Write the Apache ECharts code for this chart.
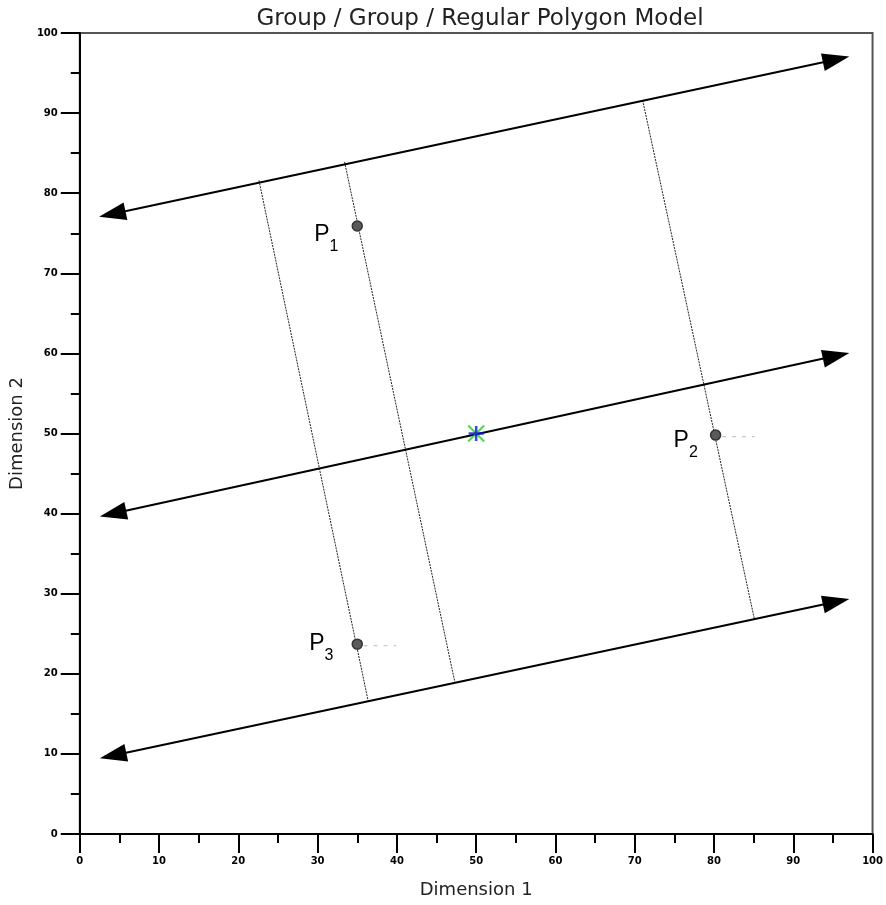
<!DOCTYPE html>
<html>
<head>
<meta charset="utf-8">
<script src="https://cdn.jsdelivr.net/npm/echarts@6/dist/echarts.min.js"></script>
<style>html,body{margin:0;padding:0;background:#fff;}#c{width:886px;height:905px;}</style>
</head>
<body>
<div id="c"></div>
<script>
// ---- data ----
const titleText = 'Group / Group / Regular Polygon Model';
const xName = 'Dimension 1';
const yName = 'Dimension 2';
const pointNames = ['1', '2', '3'];
const pointX = [35.0, 80.2, 35.0];
const pointY = [75.9, 49.8, 23.7];
const centerPoint = [50, 50];
// double-headed arrow lines (ends at arrowhead centres)
const arrowStarts = [[4.1, 77.4], [4.2, 40.0], [4.2, 9.8]];
const arrowEnds = [[95.4, 96.7], [95.4, 59.7], [95.4, 29.0]];
// thin perpendicular lines through the points
const perpStarts = [[22.6, 81.6], [33.4, 83.9], [71.0, 91.6]];
const perpEnds = [[36.4, 16.5], [47.3, 19.0], [85.1, 26.8]];
// short grey dashed stubs
const stubStarts = [[81.0, 49.6], [35.8, 23.5]];
const stubEnds = [[85.1, 49.6], [39.9, 23.5]];

// ---- label layout (not data) ----
const labelOffsets = [[-8, 9], [-7, 5.5], [-13, -1]];

const chart = echarts.init(document.getElementById('c'), null, {renderer: 'canvas'});

const axisCommon = {
  type: 'value', min: 0, max: 100, interval: 10,
  axisLine: {show: true, onZero: false, lineStyle: {color: '#000', width: 2}},
  axisTick: {show: true, length: 19, lineStyle: {color: '#000', width: 2}},
  minorTick: {show: true, splitNumber: 2, length: 9, lineStyle: {color: '#000', width: 2}},
  splitLine: {show: false},
  minorSplitLine: {show: false},
  axisLabel: {fontSize: 10, fontWeight: 'bold', fontFamily: 'DejaVu Sans', color: '#000'},
  nameLocation: 'middle',
  nameTextStyle: {fontSize: 18, fontFamily: 'DejaVu Sans', color: '#222'}
};

const series = [];
perpStarts.forEach((s, i) => {
  series.push({
    type: 'line', data: [s, perpEnds[i]], showSymbol: false, symbol: 'none',
    lineStyle: {color: '#222', width: 1, type: [2, 1]}, silent: true, z: 2
  });
});
stubStarts.forEach((s, i) => {
  series.push({
    type: 'line', data: [s, stubEnds[i]], showSymbol: false, symbol: 'none',
    lineStyle: {color: '#bbb', width: 1, type: [4, 6]}, silent: true, z: 2
  });
});
series.push({
  type: 'line', data: [], silent: true, z: 3,
  markLine: {
    silent: true, animation: false,
    symbol: ['triangle', 'triangle'], symbolSize: [18, 27],
    label: {show: false},
    lineStyle: {color: '#000', width: 2, type: 'solid'},
    itemStyle: {color: '#000'},
    data: arrowStarts.map((s, i) => [{coord: s}, {coord: arrowEnds[i]}])
  }
});
series.push({
  type: 'scatter', z: 5,
  symbol: 'circle', symbolSize: 10,
  itemStyle: {color: '#5a5a5a', borderColor: '#333', borderWidth: 1.5, opacity: 1},
  data: pointX.map((x, i) => ({
    value: [x, pointY[i]],
    label: {
      show: true, position: 'left', offset: labelOffsets[i],
      formatter: '{p|P}{s|' + pointNames[i] + '}',
      rich: {
        p: {fontSize: 23, fontFamily: 'Liberation Sans', color: '#000'},
        s: {fontSize: 16, fontFamily: 'Liberation Sans', color: '#000', padding: [24, 0, 0, 0]}
      }
    }
  }))
});
series.push({
  type: 'scatter', z: 6, symbol: 'path://M0,0L10,10M10,0L0,10', symbolSize: 16,
  itemStyle: {color: 'transparent', borderColor: '#22cc22', borderWidth: 2},
  data: [centerPoint]
});
series.push({
  type: 'scatter', z: 7, symbol: 'path://M5,0L5,10M0,5L10,5', symbolSize: 15,
  itemStyle: {color: 'transparent', borderColor: '#1010e0', borderWidth: 2.5},
  data: [centerPoint]
});

chart.setOption({
  animation: false,
  backgroundColor: '#fff',
  title: {
    text: titleText, left: 475, top: 3, textAlign: 'center',
    textStyle: {fontSize: 23, fontWeight: 'normal', fontFamily: 'DejaVu Sans', color: '#222'}
  },
  grid: {left: 77, right: 12, top: 33, bottom: 71, show: true, borderColor: '#555', borderWidth: 2, backgroundColor: '#fff'},
  xAxis: Object.assign({}, axisCommon, {name: xName, nameGap: 47, axisLabel: Object.assign({}, axisCommon.axisLabel, {margin: 22})}),
  yAxis: Object.assign({}, axisCommon, {name: yName, nameGap: 50, axisLabel: Object.assign({}, axisCommon.axisLabel, {margin: 22})}),
  series: series
});
</script>
</body>
</html>
